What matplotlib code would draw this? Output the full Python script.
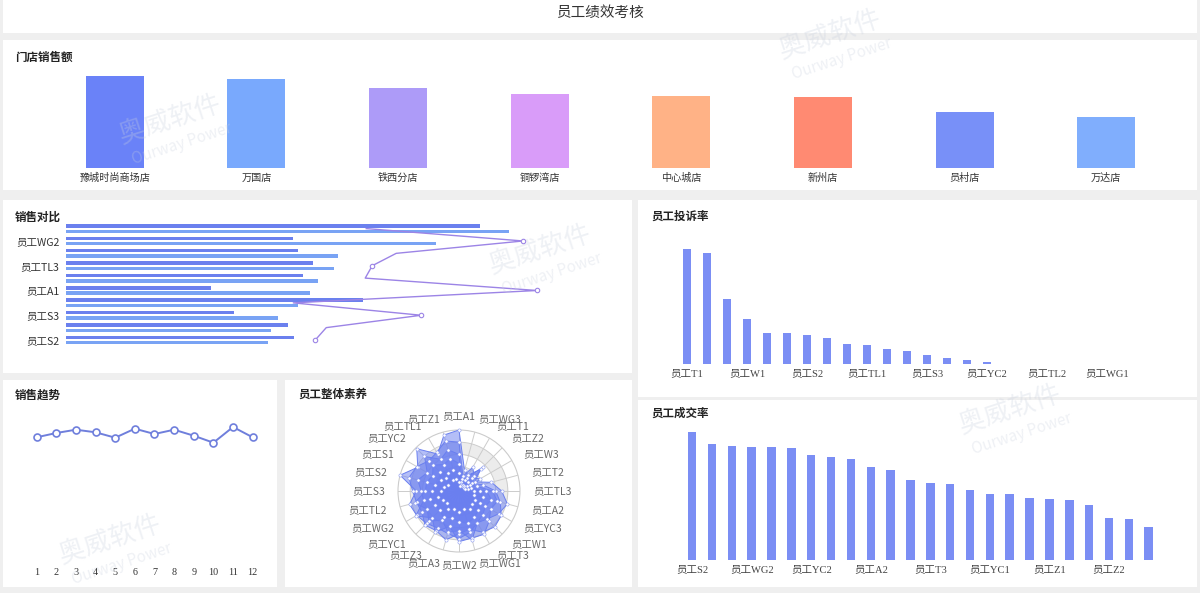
import numpy as np
import matplotlib
matplotlib.use("Agg")
import matplotlib.pyplot as plt
from matplotlib.patches import Rectangle

plt.rcParams['font.family'] = ['Noto Sans CJK SC', 'DejaVu Sans']

# ---------------- data ----------------
title = "员工绩效考核"

store_names = ["豫城时尚商场店", "万国店", "铁西分店", "铜锣湾店", "中心城店", "新州店", "员村店", "万达店"]
store_sales = [920, 893, 796, 736, 723, 710, 563, 510]
store_colors = ['#6a82f8', '#79a9fd', '#ad9bf8', '#d99cf9', '#ffb286', '#ff8a72', '#7890f8', '#80aefd']

# sales comparison (bottom -> top)
comp_names = ["员工S2", "员工T2", "员工S3", "员工YC1", "员工A1", "员工W3", "员工TL3", "员工Z1", "员工WG2", "员工A2"]
comp_a = [229, 223, 169, 298, 146, 238, 248, 233, 228, 415]
comp_b = [203, 206, 213, 233, 245, 253, 269, 273, 371, 444]
comp_line = [250, 261, 356, 228, 472, 300, 307, 331, 458, 301]

# sales trend
months = ["1", "2", "3", "4", "5", "6", "7", "8", "9", "10", "11", "12"]
trend = [124.7, 129, 132.3, 129.7, 124.3, 133.3, 128, 132.3, 126.3, 119.3, 135, 124.7]

# radar
radar_names = ["员工A1", "员工WG3", "员工T1", "员工Z2", "员工W3", "员工T2", "员工TL3", "员工A2",
               "员工YC3", "员工W1", "员工T3", "员工WG1", "员工W2", "员工A3", "员工Z3", "员工YC1",
               "员工WG2", "员工TL2", "员工S3", "员工S2", "员工S1", "员工YC2", "员工TL1", "员工Z1"]
radar_s1 = [100, 35, 30, 50, 30, 55, 70, 82, 75, 65, 60, 70, 78, 72, 70, 75, 80, 84, 70, 100, 78, 98, 70, 95]
radar_s2 = [80, 25, 45, 35, 25, 40, 60, 70, 80, 83, 78, 65, 70, 83, 75, 79, 70, 72, 76, 85, 80, 70, 73, 85]
radar_s3 = [60, 20, 25, 55, 20, 30, 55, 65, 60, 70, 82, 80, 83, 60, 78, 62, 82, 60, 62, 70, 60, 80, 60, 70]
radar_s4 = [45, 15, 20, 30, 40, 20, 45, 55, 50, 55, 60, 83, 65, 70, 55, 70, 60, 75, 55, 55, 50, 60, 50, 55]
radar_s5 = [30, 10, 10, 20, 15, 15, 35, 40, 40, 45, 50, 55, 50, 45, 50, 45, 45, 50, 45, 40, 35, 45, 35, 35]
radar_s6 = [15, 8, 12, 12, 10, 10, 25, 25, 30, 30, 35, 30, 35, 30, 35, 28, 30, 35, 30, 25, 20, 30, 20, 20]

# complaint rate
complaint_names = ["员工T1", "员工A1", "员工A2", "员工W1", "员工A3", "员工S1", "员工S2", "员工T2", "员工T3",
                   "员工TL1", "员工TL3", "员工W2", "员工S3", "员工W3", "员工WG2", "员工YC2", "员工WG3", "员工YC1",
                   "员工TL2", "员工YC3", "员工Z1", "员工WG1", "员工Z2", "员工Z3"]
complaint = [11.5, 11.1, 6.5, 4.5, 3.1, 3.1, 2.9, 2.6, 2.0, 1.9, 1.5, 1.3, 0.9, 0.6, 0.4, 0.2,
             0, 0, 0, 0, 0, 0, 0, 0]

# conversion rate
conv_names = ["员工S2", "员工A1", "员工T1", "员工WG2", "员工S1", "员工TL1", "员工YC2", "员工W1", "员工T2",
              "员工A2", "员工W3", "员工S3", "员工T3", "员工TL3", "员工WG1", "员工YC1", "员工A3", "员工W2",
              "员工Z1", "员工TL2", "员工WG3", "员工Z2", "员工YC3", "员工Z3"]
conversion = [63.9, 57.9, 56.9, 56.7, 56.5, 55.9, 52.4, 51.7, 50.4, 46.4, 45.0, 40.2, 38.7, 38.0,
              35.2, 33.0, 33.0, 30.9, 30.4, 30.0, 27.4, 21.2, 20.5, 16.5]

# ---------------- layout helpers ----------------
W, H = 1200, 593
fig = plt.figure(figsize=(W / 100, H / 100), dpi=100)
fig.patch.set_facecolor('#efefef')


def box(x0, y0, x1, y1):
    return [x0 / W, 1 - y1 / H, (x1 - x0) / W, (y1 - y0) / H]


def ftext(x, y, s, **kw):
    fig.text(x / W, 1 - y / H, s, **kw)


panels = [(3, 0, 1197, 33), (3, 40, 1197, 190), (3, 200, 632, 373), (638, 200, 1197, 397),
          (3, 380, 277, 587), (285, 380, 632, 587), (638, 400, 1197, 587)]
for p in panels:
    fig.patches.append(Rectangle((p[0] / W, 1 - p[3] / H), (p[2] - p[0]) / W, (p[3] - p[1]) / H,
                                 transform=fig.transFigure, facecolor='white', edgecolor='none',
                                 zorder=-5))

ftext(600, 13, title, ha='center', va='center', fontsize=10.5, color='#333333')
for (x, y, s) in [(15, 57, "门店销售额"), (15, 217, "销售对比"), (651, 216, "员工投诉率"),
                  (15, 395, "销售趋势"), (298, 394, "员工整体素养"), (651, 413, "员工成交率")]:
    ftext(x, y, s, ha='left', va='center', fontsize=8.3, fontweight='bold', color='#222222')

serif = ['Liberation Serif', 'Noto Sans CJK SC']


def clean(ax):
    for s in ax.spines.values():
        s.set_visible(False)
    ax.patch.set_alpha(0)
    ax.tick_params(length=0)
    ax.set_zorder(2)


# ---------------- store sales ----------------
ax = fig.add_axes(box(44, 68, 1177, 168))
clean(ax)
xs = np.arange(len(store_names))
ax.bar(xs, store_sales, width=0.41, color=store_colors)
ax.set_xlim(-0.5, len(store_names) - 0.5)
ax.set_ylim(0, 1000)
ax.set_yticks([])
ax.set_xticks(xs)
ax.set_xticklabels(store_names, fontsize=7.3, color='#333333')
ax.tick_params(axis='x', pad=3.5)

# ---------------- sales comparison ----------------
ax = fig.add_axes(box(65.5, 222.4, 600, 346.2))
clean(ax)
ys = np.arange(len(comp_names))
ax.barh(ys + 0.216, comp_a, height=0.28, color='#6b80ee')
ax.barh(ys - 0.216, comp_b, height=0.28, color='#79a3f4')
ax.plot(comp_line, ys, color='#9c84e6', lw=1.0, zorder=3)
ax.plot(comp_line[::2], ys[::2], 'o', ms=3.2, mfc='white', mec='#9c84e6', mew=0.8, zorder=4, clip_on=False)
ax.set_xlim(0, 535)
ax.set_ylim(-0.5, len(comp_names) - 0.5)
ax.set_xticks([])
ax.set_yticks(ys[::2])
ax.set_yticklabels(comp_names[::2], fontsize=7.6, color='#333333')
ax.tick_params(axis='y', pad=4.5)

# ---------------- sales trend ----------------
ax = fig.add_axes(box(26.8, 412, 262.5, 562))
clean(ax)
xm = np.arange(len(months))
ax.plot(xm, trend, color='#6f7fdc', lw=1.4, marker='o', ms=5, mfc='white', mec='#6f7fdc', mew=1.2,
        clip_on=False)
ax.set_xlim(-0.5, len(months) - 0.5)
ax.set_ylim(0, 150)
ax.set_yticks([])
ax.set_xticks(xm)
ax.set_xticklabels(months, fontsize=7.3, color='#333333', fontfamily=serif)
ax.tick_params(axis='x', pad=4)

# ---------------- radar ----------------
cx, cy, R = 459, 491, 61
ax = fig.add_axes(box(cx - R, cy - R, cx + R, cy + R), projection='polar')
ax.set_zorder(2)
ax.set_theta_zero_location('N')
ax.set_theta_direction(-1)
ax.set_ylim(0, 100)
ax.patch.set_alpha(0)
n = len(radar_names)
ang = np.arange(n) * 2 * np.pi / n
tt = np.linspace(0, 2 * np.pi, 300)
for i in [1, 3]:
    ax.fill_between(tt, 20 * i, 20 * (i + 1), color='#ececec', zorder=0, lw=0)
for r in [20, 40, 60, 80]:
    ax.plot(tt, np.full_like(tt, r), color='#cccccc', lw=0.7, zorder=1)
for a in ang:
    ax.plot([a, a], [0, 100], color='#cccccc', lw=0.7, zorder=1)
ax.grid(False)
ax.set_xticks([])
ax.set_yticks([])
ax.spines['polar'].set_color('#cccccc')
ax.spines['polar'].set_linewidth(0.8)
series = [radar_s1, radar_s2, radar_s3, radar_s4, radar_s5, radar_s6]
ac = np.append(ang, ang[0])
for s in series:
    v = np.append(s, s[0])
    ax.fill(ac, v, color='#6a7ff0', alpha=0.5, lw=0, zorder=2)
for s in series:
    v = np.append(s, s[0])
    ax.plot(ac, v, color='#6a7ff0', lw=0.7, zorder=3)
    ax.plot(ang, s, 'o', ms=2.3, mfc='white', mec='#8a9af2', mew=0.4, zorder=4, clip_on=False)
for a, name in zip(ang, radar_names):
    sa = np.sin(a)
    ha = 'center' if abs(sa) < 0.05 else ('left' if sa > 0 else 'right')
    ax.text(a, 122, name, ha=ha, va='center', fontsize=7.5, color='#666666')

# ---------------- complaint rate ----------------
ax = fig.add_axes(box(677, 239, 1157, 364))
clean(ax)
xc = np.arange(len(complaint_names))
ax.bar(xc, complaint, width=0.43, color='#7b8ef4')
ax.set_xlim(-0.5, len(complaint_names) - 0.5)
ax.set_ylim(0, 12.5)
ax.set_yticks([])
ax.set_xticks(xc[::3])
ax.set_xticklabels(complaint_names[::3], fontsize=7.6, color='#444444', fontfamily=serif)
ax.tick_params(axis='x', pad=4)

# ---------------- conversion rate ----------------
ax = fig.add_axes(box(682.2, 430, 1158.6, 560))
clean(ax)
xv = np.arange(len(conv_names))
ax.bar(xv, conversion, width=0.43, color='#7b8ef4')
ax.set_xlim(-0.5, len(conv_names) - 0.5)
ax.set_ylim(0, 65)
ax.set_yticks([])
ax.set_xticks(xv[::3])
ax.set_xticklabels(conv_names[::3], fontsize=7.6, color='#444444', fontfamily=serif)
ax.tick_params(axis='x', pad=4)

# ---------------- watermarks ----------------
for (x, y) in [(830, 35), (170, 120), (540, 250), (1010, 410), (110, 540)]:
    ftext(x, y, "奥威软件", ha='center', va='center', fontsize=19, color='#c9d0de', alpha=0.3,
          rotation=18, zorder=10)
    ftext(x + 12, y + 24, "Ourway Power", ha='center', va='center', fontsize=11, color='#c9d0de',
          alpha=0.3, rotation=18, zorder=10)

fig.savefig("out.png", dpi=100, facecolor=fig.get_facecolor())
